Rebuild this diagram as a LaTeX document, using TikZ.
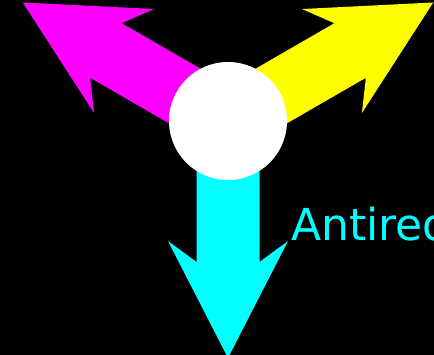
\documentclass[tikz,border=0pt]{standalone}
\usepackage{fontspec}
\setmainfont{DejaVu Sans}
\definecolor{mag}{HTML}{FF00FF}
\definecolor{yel}{HTML}{FFFF00}
\definecolor{cya}{HTML}{00FFFF}
\tikzset{
  bigarrow/.style={fill=#1, draw=none},
  hub/.style={circle, fill=white, draw=none, minimum size=118pt, inner sep=0pt},
  lbl/.style={text=#1, font=\fontsize{44}{44}\selectfont, anchor=base west, inner sep=0pt}
}
\newcommand{\arrowshape}{(0,31.5) -- (141,31.5) -- (120,60) -- (237,0) -- (120,-60) -- (141,-31.5) -- (0,-31.5) -- cycle}
\begin{document}
\begin{tikzpicture}[x=1pt,y=1pt]
\useasboundingbox (0,0) rectangle (434,-355);
\fill[black] (0,0) rectangle (434,-355);
\clip (0,0) rectangle (434,-355);
\coordinate (c) at (228,-121);
\begin{scope}[shift={(c)}, rotate=150]
  \fill[bigarrow=mag] \arrowshape;
\end{scope}
\begin{scope}[shift={(c)}, rotate=30]
  \fill[bigarrow=yel] \arrowshape;
\end{scope}
\begin{scope}[shift={(c)}, rotate=-90]
  \fill[bigarrow=cya] \arrowshape;
\end{scope}
\node[hub] (hubnode) at (c) {};
\node[lbl=cya] (antired) at (291,-241) {Antired};
\end{tikzpicture}
\end{document}
